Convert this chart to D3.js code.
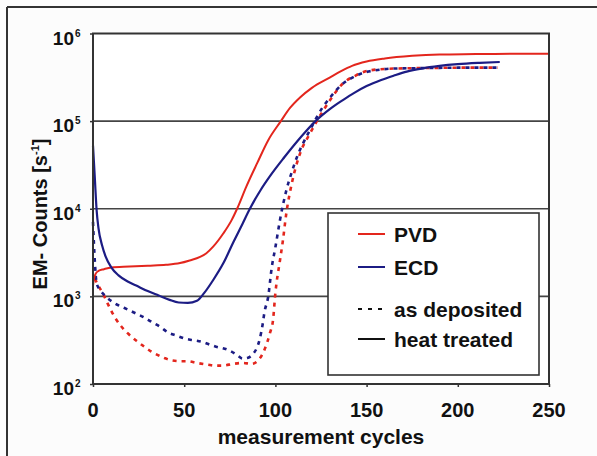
<!DOCTYPE html>
<html><head><meta charset="utf-8">
<script src="https://cdn.jsdelivr.net/npm/d3@7"></script>
<style>html,body{margin:0;padding:0;background:#fcfcfc}svg{display:block}text{font-family:"Liberation Sans",Arial,sans-serif;font-weight:bold;fill:#111}</style>
</head><body>
<script>
// ---- data (cycle, log10 counts) ----
const pvdHeatCycles = [0,0.5,1.5,3,6,10,20,30,40,47.7,53,58.7,62,66,71.5,76,79,84,90,96,103,108,113.5,120,130,136,142,150,160,175,190,210,230,250];
const pvdHeatLog    = [3.12,3.2,3.26,3.29,3.31,3.33,3.34,3.35,3.36,3.38,3.41,3.45,3.49,3.57,3.72,3.87,4.0,4.25,4.52,4.78,5.0,5.15,5.27,5.38,5.5,5.57,5.63,5.68,5.715,5.745,5.76,5.765,5.77,5.77];

const ecdHeatCycles = [0,1,2,3,5,7,10,14,19,24,30,36,42,47,52,57,61,66,71.5,77,82,86,91.5,98,105,112,117,122,130,137,143,150,158,165,172,180,190,200,212,223];
const ecdHeatLog    = [4.72,4.35,3.98,3.78,3.58,3.45,3.33,3.24,3.17,3.12,3.06,3.01,2.96,2.93,2.925,2.95,3.04,3.19,3.38,3.62,3.83,4.0,4.2,4.4,4.59,4.77,4.89,5.0,5.14,5.24,5.32,5.4,5.47,5.52,5.565,5.6,5.63,5.65,5.665,5.675];

const pvdDepCycles = [1,3,5.5,8,12,15,19,24,28.5,32,35.6,40,43,48,52,57,63,67,71,77,82,87,91,94,97,98.7,100,102.5,104,106,109,113.5,119,123,130,137,144,152,165,180,200,222];
const pvdDepLog    = [3.2,3.12,3.03,2.92,2.76,2.67,2.58,2.49,2.42,2.37,2.33,2.29,2.27,2.26,2.26,2.24,2.22,2.21,2.21,2.23,2.24,2.23,2.28,2.39,2.58,2.73,3.04,3.41,3.62,3.95,4.29,4.63,4.86,5.01,5.24,5.43,5.52,5.58,5.6,5.605,5.61,5.61];

const ecdDepCycles = [0,1,2,4,7,12,17,23,28,32,37,41,46,50,55,60,64,68.5,71,75,79,82,85,88,90,91.5,93,94,96,98,100,102.5,106,109,112,115,119,122,126,130,136,142.5,148,155,165,180,200,223];
const ecdDepLog    = [3.85,3.4,3.15,3.07,3.0,2.92,2.87,2.81,2.76,2.71,2.65,2.59,2.55,2.52,2.5,2.48,2.45,2.42,2.41,2.38,2.33,2.29,2.3,2.35,2.42,2.52,2.68,2.82,2.99,3.33,3.56,3.87,4.21,4.42,4.6,4.74,4.9,5.02,5.16,5.27,5.41,5.5,5.55,5.58,5.6,5.605,5.61,5.61];

const xTicks = [0,50,100,150,200,250];
const yTickExps = [2,3,4,5,6];
const legendSeries = ["PVD","ECD"];
const legendStyles = ["as deposited","heat treated"];

const RED = "#e3261d", BLUE = "#1c1c84";

const W = 597, H = 456;
const svg = d3.select("body").append("svg").attr("width", W).attr("height", H);
svg.append("rect").attr("width", W).attr("height", H).attr("fill", "#fcfcfc");

// outer frame (top & left edges)
svg.append("line").attr("x1",7).attr("x2",W).attr("y1",7).attr("y2",7).attr("stroke","#333").attr("stroke-width",2);
svg.append("line").attr("x1",7).attr("x2",7).attr("y1",7).attr("y2",H).attr("stroke","#333").attr("stroke-width",2);

const L = 93, R = 549, T = 33.5, B = 384;
const x = d3.scaleLinear().domain([0,250]).range([L,R]);
const y = d3.scaleLog().domain([100,1e6]).range([B,T]);

svg.append("rect").attr("x",L).attr("y",T).attr("width",R-L).attr("height",B-T).attr("fill","#fff");

// gridlines
svg.append("g").selectAll("line").data([3,4,5]).join("line")
  .attr("x1",L).attr("x2",R).attr("y1",d=>y(Math.pow(10,d))).attr("y2",d=>y(Math.pow(10,d)))
  .attr("stroke","#444").attr("stroke-width",1.6);

// axes
const xAxis = d3.axisBottom(x).tickValues(xTicks).tickSize(3).tickFormat("");
const gx = svg.append("g").attr("transform",`translate(0,${B})`).call(xAxis);
gx.select(".domain").remove();
gx.selectAll("line").attr("stroke","#333").attr("stroke-width",1.5);
svg.append("g").selectAll("text").data(xTicks).join("text")
  .attr("x",d=>x(d)).attr("y",417).attr("text-anchor","middle").attr("font-size",20).text(d=>d);

const yAxis = d3.axisLeft(y).tickValues(yTickExps.map(e=>Math.pow(10,e))).tickSize(3).tickFormat("");
const gy = svg.append("g").attr("transform",`translate(${L},0)`).call(yAxis);
gy.select(".domain").remove();
gy.selectAll("line").attr("stroke","#333").attr("stroke-width",1.5);
const yl = svg.append("g").selectAll("text").data(yTickExps).join("text")
  .attr("x",74).attr("y",e=>y(Math.pow(10,e))+11).attr("text-anchor","end").attr("font-size",19);
yl.append("tspan").text("10");
yl.append("tspan").attr("x",75).attr("dy",-8).attr("font-size",10).attr("text-anchor","start").text(e=>e);

// lines
const mk = (cs, ls) => cs.map((c,i)=>({c, v: Math.pow(10, ls[i])}));
const line = d3.line().x(d=>x(d.c)).y(d=>y(d.v)).curve(d3.curveMonotoneX);
const plot = svg.append("g");
plot.append("path").datum(mk(pvdDepCycles,pvdDepLog)).attr("d",line).attr("fill","none")
  .attr("stroke",RED).attr("stroke-width",2.6).attr("stroke-dasharray","4,5");
plot.append("path").datum(mk(ecdDepCycles,ecdDepLog)).attr("d",line).attr("fill","none")
  .attr("stroke",BLUE).attr("stroke-width",2.6).attr("stroke-dasharray","4,5");
plot.append("path").datum(mk(pvdHeatCycles,pvdHeatLog)).attr("d",line).attr("fill","none")
  .attr("stroke",RED).attr("stroke-width",2);
plot.append("path").datum(mk(ecdHeatCycles,ecdHeatLog)).attr("d",line).attr("fill","none")
  .attr("stroke",BLUE).attr("stroke-width",2.2);

// plot border
svg.append("rect").attr("x",L).attr("y",T).attr("width",R-L).attr("height",B-T)
  .attr("fill","none").attr("stroke","#333").attr("stroke-width",2);

// legend
const lg = svg.append("g");
lg.append("rect").attr("x",328).attr("y",213).attr("width",211).attr("height",162)
  .attr("fill","#fff").attr("stroke","#333").attr("stroke-width",1.6);
const entries = [
  {label: legendSeries[0], color: RED, dash: null, yy: 234},
  {label: legendSeries[1], color: BLUE, dash: null, yy: 267},
  {label: legendStyles[0], color: "#111", dash: "4,6", yy: 309},
  {label: legendStyles[1], color: "#111", dash: null, yy: 339}
];
entries.forEach(e=>{
  lg.append("line").attr("x1",358).attr("x2",385).attr("y1",e.yy).attr("y2",e.yy)
    .attr("stroke",e.color).attr("stroke-width",2).attr("stroke-dasharray",e.dash);
  lg.append("text").attr("x",394).attr("y",e.yy+7.5).attr("font-size",21).text(e.label);
});

// axis titles
svg.append("text").attr("x",(L+R)/2).attr("y",444).attr("text-anchor","middle").attr("font-size",21).text("measurement cycles");
const yt = svg.append("text").attr("transform","translate(47,214) rotate(-90)").attr("text-anchor","middle").attr("font-size",20);
yt.append("tspan").text("EM- Counts [s");
yt.append("tspan").attr("font-size",11).attr("dy",-8).text("-1");
yt.append("tspan").attr("dy",8).text("]");
</script>
</body></html>
